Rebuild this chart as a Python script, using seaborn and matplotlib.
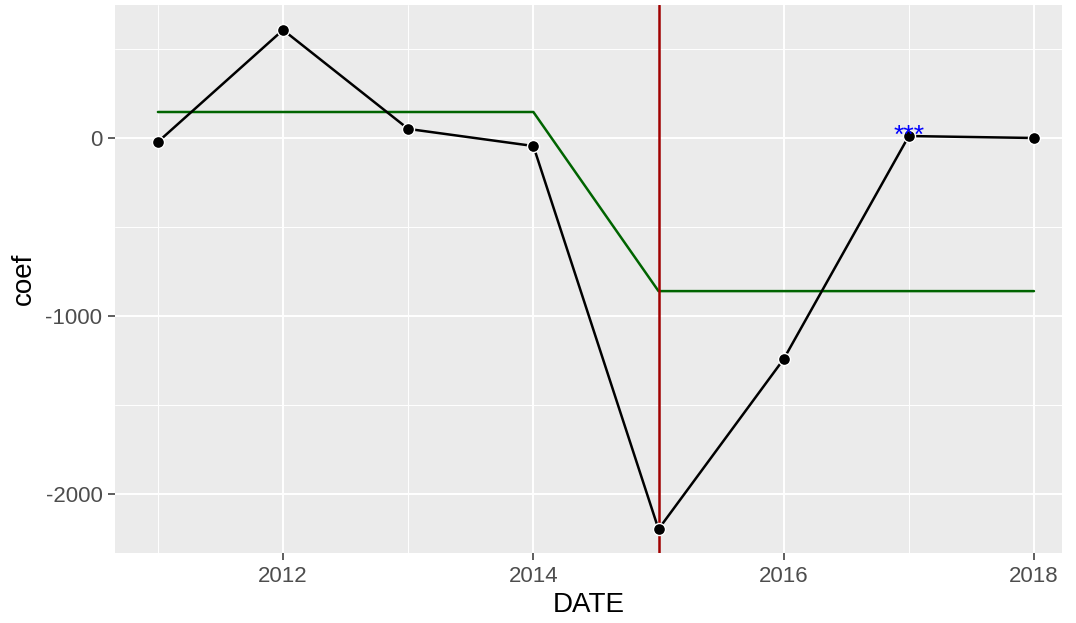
import matplotlib
matplotlib.use("Agg")
import matplotlib.pyplot as plt
import seaborn as sns
import pandas as pd
from matplotlib.ticker import FixedLocator

# Yearly coefficients
years = [2011, 2012, 2013, 2014, 2015, 2016, 2017, 2018]
coef = [-22, 607, 51, -45, -2197, -1242, 11, 0]

# Period means (before / after the break)
mean_years = [2011, 2014, 2015, 2018]
mean_vals = [146, 146, -860, -860]
break_year = 2015

# Significance markers
sig_year = 2017
sig_label = "***"

df = pd.DataFrame({"DATE": years, "coef": coef})
df_mean = pd.DataFrame({"DATE": mean_years, "coef": mean_vals})

sns.set_theme(style="darkgrid", rc={
    "axes.facecolor": "#EBEBEB",
    "grid.color": "white",
    "axes.edgecolor": "white",
})
plt.rcParams["font.family"] = ["Liberation Sans", "DejaVu Sans"]

fig = plt.figure(figsize=(10.76, 6.23), dpi=100)
ax = fig.add_axes([115 / 1076, 1 - 553 / 623, (1062 - 115) / 1076, (553 - 5) / 623])

sns.lineplot(data=df_mean, x="DATE", y="coef", color="#006400", lw=1.8, ax=ax, zorder=3)
ax.axvline(break_year, color="#A00000", lw=1.8, zorder=4)
sns.lineplot(data=df, x="DATE", y="coef", color="black", lw=1.8, ax=ax, zorder=5)
sns.scatterplot(data=df, x="DATE", y="coef", color="black", edgecolor="white",
                linewidth=1.0, s=75, ax=ax, zorder=6)

sig_val = coef[years.index(sig_year)]
ax.text(sig_year, sig_val, sig_label, color="blue", ha="center", va="center",
        fontsize=19, zorder=7)

ax.set_xlim(2010.657, 2018.224)
ax.set_ylim(-2331, 747)
ax.xaxis.set_major_locator(FixedLocator([2012, 2014, 2016, 2018]))
ax.xaxis.set_minor_locator(FixedLocator([2011, 2013, 2015, 2017]))
ax.yaxis.set_major_locator(FixedLocator([-2000, -1000, 0]))
ax.yaxis.set_minor_locator(FixedLocator([-1500, -500, 500]))
ax.set_xticklabels(["2012", "2014", "2016", "2018"])
ax.set_yticklabels(["-2000", "-1000", "0"])
ax.grid(which="major", color="white", lw=1.4)
ax.grid(which="minor", color="white", lw=0.7)
ax.tick_params(axis="both", which="major", length=5, width=1.1, color="#333333",
               labelsize=16, labelcolor="#4D4D4D", pad=4, bottom=True, left=True)
ax.tick_params(axis="both", which="minor", length=0)
for s in ax.spines.values():
    s.set_visible(False)
ax.set_xlabel("DATE", fontsize=20, color="black", labelpad=4)
ax.set_ylabel("coef", fontsize=20, color="black", labelpad=6)

fig.savefig("out.png", dpi=100)
